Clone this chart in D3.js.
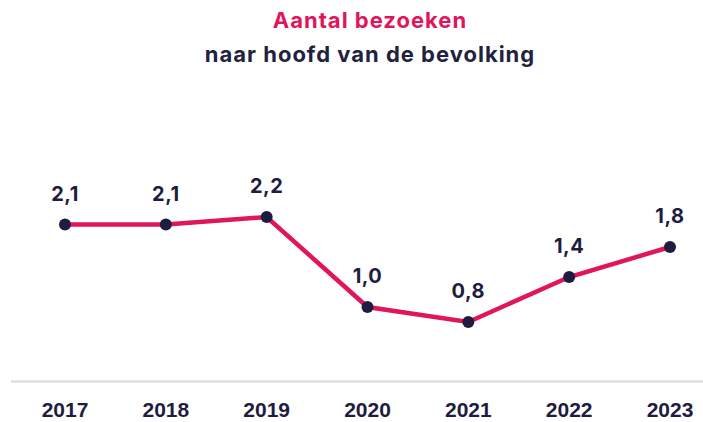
<!DOCTYPE html>
<html>
<head>
<meta charset="utf-8">
<style>
    body { margin: 0; background: white; }
    .title { font-family: Inter, sans-serif; font-weight: 700; font-size: 22px; letter-spacing: 1px; text-anchor: middle; }
    .valueLabel { font-family: Inter, sans-serif; font-weight: 700; font-size: 20px; letter-spacing: 0.5px; fill: #1f1d3f; text-anchor: middle; }
    .yearLabel { font-family: "Liberation Sans Narrow", "Arial Narrow", sans-serif; font-weight: 700; font-size: 21px; fill: #1f1d3f; text-anchor: middle; }
</style>
</head>
<body>
<script src="https://cdn.jsdelivr.net/npm/d3@7"></script>
<script>
    const years = ["2017", "2018", "2019", "2020", "2021", "2022", "2023"];
    const visits = [2.1, 2.1, 2.2, 1.0, 0.8, 1.4, 1.8];

    const width = 703, height = 422;
    const svg = d3.select("body").append("svg").attr("width", width).attr("height", height);

    const x = d3.scalePoint().domain(years).range([65, 670]);
    const y = d3.scaleLinear().domain([0, 3]).range([382, 157]);

    svg.append("text").attr("class", "title").attr("x", 370).attr("y", 28)
        .attr("fill", "#e0155a").text("Aantal bezoeken");
    svg.append("text").attr("class", "title").attr("x", 370).attr("y", 62)
        .attr("fill", "#22223f").text("naar hoofd van de bevolking");

    // baseline
    svg.append("line")
        .attr("x1", 11).attr("x2", width)
        .attr("y1", y(0) - 0.5).attr("y2", y(0) - 0.5)
        .attr("stroke", "#d9d9d9").attr("stroke-width", 2);

    const data = years.map((yr, i) => ({year: yr, value: visits[i]}));

    svg.append("path")
        .datum(data)
        .attr("fill", "none")
        .attr("stroke", "#e0155a")
        .attr("stroke-width", 4.5)
        .attr("d", d3.line().x(d => x(d.year)).y(d => y(d.value)));

    svg.selectAll(".dot").data(data).enter().append("circle")
        .attr("cx", d => x(d.year)).attr("cy", d => y(d.value))
        .attr("r", 6).attr("fill", "#1f1d3f");

    svg.selectAll(".valueLabel").data(data).enter().append("text")
        .attr("class", "valueLabel")
        .attr("x", d => x(d.year)).attr("y", d => y(d.value) - 24)
        .text(d => d3.format(".1f")(d.value).replace(".", ","));

    svg.selectAll(".yearLabel").data(years).enter().append("text")
        .attr("class", "yearLabel")
        .attr("x", d => x(d)).attr("y", 417)
        .text(d => d);
</script>
</body>
</html>
